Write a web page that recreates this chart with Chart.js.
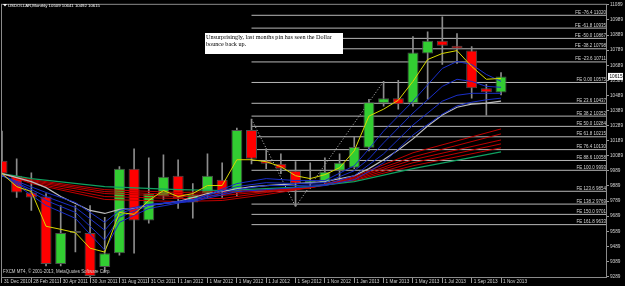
<!DOCTYPE html>
<html>
<head>
<meta charset="utf-8">
<script src="https://cdn.jsdelivr.net/npm/chart.js@4.4.0/dist/chart.umd.min.js"></script>
<style>
  html, body { margin: 0; padding: 0; background: #000; }
  #wrap { width: 625px; height: 286px; }
</style>
</head>
<body>
<div id="wrap"><canvas id="chart" width="625" height="286"></canvas></div>
<script>
// USDOLLAR monthly candles, MT4 look (black chart, fibo expansion levels)

// time axis: one label every 2 bars
var dateBars = [0, 2, 4, 6, 8, 10, 12, 14, 16, 18, 20, 22, 24, 26, 28, 30, 32, 34];
var dateLabels = ["31 Dec 2010", "28 Feb 2011", "30 Apr 2011", "30 Jun 2011", "31 Aug 2011",
  "31 Oct 2011", "1 Jan 2012", "1 Mar 2012", "1 May 2012", "1 Jul 2012", "1 Sep 2012",
  "1 Nov 2012", "1 Jan 2013", "1 Mar 2013", "1 May 2013", "1 Jul 2013", "1 Sep 2013", "1 Nov 2013"];
var priceTicks = [9289, 9389, 9489, 9589, 9689, 9789, 9889, 9989, 10089, 10189, 10289,
  10389, 10489, 10589, 10689, 10789, 10889, 10989, 11089];

// monthly OHLC (bar 0 .. 34)
var opens = [10056, 9957, 9846, 9819, 9372, 9590, 9577, 9352, 9444, 10004, 9661, 9819, 9957, 9780,
  9839, 9931, 9846, 10260, 10056, 10036, 9990, 9905, 9911, 9990, 10010, 10142, 10438, 10471, 10438,
  10767, 10852, 10819, 10786, 10536, 10509];
var highs = [10253, 10069, 9977, 9839, 9760, 9760, 9760, 9681, 10017, 10135, 10076, 10096, 10063,
  9905, 10102, 10043, 10273, 10332, 10135, 10102, 10050, 10043, 10076, 10102, 10214, 10464, 10582,
  10589, 10879, 10911, 11010, 10898, 10813, 10563, 10641];
var lows = [9951, 9813, 9727, 9359, 9359, 9452, 9286, 9319, 9431, 9444, 9642, 9800, 9740, 9675,
  9813, 9813, 9819, 10036, 10004, 9971, 9753, 9872, 9905, 9925, 10004, 10122, 10418, 10398, 10418,
  10464, 10694, 10701, 10471, 10359, 10492];
var closes = [9971, 9846, 9813, 9372, 9577, 9577, 9293, 9444, 10004, 9661, 9839, 9951, 9806, 9832,
  9957, 9846, 10260, 10069, 10036, 10004, 9905, 9925, 9984, 10043, 10148, 10444, 10471, 10431, 10773,
  10852, 10819, 10800, 10536, 10510, 10615];

// fast yellow average, one value per bar
var yellowMa = [9971, 9885, 9852, 9622, 9602, 9580, 9477, 9451, 9714, 9701, 9793, 9859, 9819, 9839,
  9892, 9892, 10063, 10063, 10050, 10017, 9957, 9938, 9964, 10010, 10122, 10352, 10398, 10457, 10582,
  10727, 10767, 10786, 10681, 10596, 10602];

// blue ribbon
var blueBars = [0, 3, 5, 7, 8, 10, 13, 16, 18, 20, 22, 24, 25, 26, 28, 30, 31, 32, 33, 34];
var blueA = [9964, 9760, 9675, 9464, 9648, 9740, 9793, 9905, 9938, 9925, 9925, 10023, 10135, 10253,
  10451, 10668, 10714, 10694, 10628, 10582];
var blueB = [9964, 9793, 9714, 9530, 9681, 9760, 9800, 9885, 9911, 9905, 9911, 9990, 10069, 10175,
  10372, 10549, 10596, 10582, 10549, 10543];
var blueC = [9957, 9819, 9747, 9596, 9707, 9767, 9793, 9865, 9892, 9892, 9898, 9957, 10030, 10102,
  10293, 10451, 10490, 10503, 10503, 10503];
var blueD = [9957, 9846, 9780, 9648, 9727, 9767, 9786, 9852, 9865, 9878, 9892, 9931, 9985, 10043,
  10227, 10365, 10420, 10444, 10460, 10471];

// slow silver average
var grayBars = [0, 2, 3, 4, 6, 7, 8, 9, 10, 12, 14, 17, 20, 22, 24, 25, 26, 27, 28, 29, 30, 31, 32, 33, 34];
var grayMa = [9971, 9918, 9878, 9819, 9727, 9707, 9734, 9740, 9760, 9786, 9839, 9885, 9905, 9918,
  9957, 10004, 10063, 10128, 10201, 10286, 10359, 10411, 10431, 10438, 10451];

// red ribbon + green slowest line
var redBars = [0, 2, 7, 12, 15, 18, 21, 24, 28, 34];
var red1 = [9971, 9905, 9800, 9786, 9793, 9832, 9878, 9951, 10109, 10267];
var red2 = [9971, 9911, 9819, 9806, 9806, 9846, 9878, 9944, 10082, 10234];
var red3 = [9971, 9918, 9839, 9819, 9826, 9852, 9878, 9938, 10063, 10194];
var red4 = [9971, 9925, 9852, 9832, 9839, 9859, 9878, 9931, 10043, 10168];
var red5 = [9971, 9931, 9865, 9846, 9852, 9865, 9878, 9925, 10023, 10142];
var greenMa = [9971, 9938, 9885, 9865, 9859, 9872, 9885, 9918, 10004, 10115];

// zigzag swing points
var zigBars = [17, 20, 26];
var zigVals = [10332, 9753, 10582];

// fibo expansion levels
var feStartBar = 17;
var feRatios = ["-76.4", "-61.8", "-50.0", "-38.2", "-23.6", "0.00", "23.6", "38.2", "50.0",
  "61.8", "76.4", "88.6", "100.0", "123.6", "138.2", "150.0", "161.8"];
var feLevels = [11020, 10935, 10867, 10798, 10711, 10575, 10437, 10352, 10284, 10215, 10130,
  10058, 9993, 9854, 9769, 9701, 9633];

var titleText = "USDOLLAR,Monthly 10509 10641 10492 10615";
var noteLines = ["Unsurprisingly, last months pin has seen the Dollar", "bounce back up."];
var footText = "FXCM MT4, \u00A9 2001-2013, MetaQuotes Software Corp.";
var lastPrice = 10615;

var xMin = -0.068, xMax = 41.22;
var yMin = 9286, yMax = 11096;

var UP = '#32cd32', DOWN = '#ff0000';
var SMALL = 'Liberation Sans';

function pts(bars, vals) {
  return bars.map(function (b, i) { return { x: b, y: vals[i] }; });
}

function lineSet(data, color, order, width) {
  return {
    type: 'line', data: data, borderColor: color, borderWidth: width || 1,
    pointRadius: 0, tension: 0, fill: false, order: order, clip: 0
  };
}

function fitFont(ctx, text, width, family) {
  ctx.font = '10px "' + family + '"';
  var w = ctx.measureText(text).width;
  return (10 * width / w).toFixed(2) + 'px "' + family + '"';
}

var datasets = [];

// fibo lines go at the back
feLevels.forEach(function (lv) {
  datasets.push(lineSet([{ x: feStartBar, y: lv }, { x: xMax, y: lv }], '#b8b8b8', 20, 1));
});

datasets.push({
  type: 'line', data: pts(zigBars, zigVals), borderColor: '#c8c8c8', borderWidth: 1,
  borderDash: [1, 2], pointRadius: 0, tension: 0, order: 9, clip: 0
});

// wicks then bodies
datasets.push({
  type: 'bar',
  data: lows.map(function (l, i) { return { x: i, y: [l, highs[i]] }; }),
  backgroundColor: '#8c8c8c', barThickness: 1, grouped: false, order: 8, clip: 0
});
datasets.push({
  type: 'bar',
  data: opens.map(function (o, i) { return { x: i, y: [o, closes[i]] }; }),
  backgroundColor: opens.map(function (o, i) { return closes[i] >= o ? UP : DOWN; }),
  borderColor: '#4d4d4d', borderWidth: 1, borderSkipped: false, minBarLength: 2,
  categoryPercentage: 1, barPercentage: 0.75, grouped: false, order: 7, clip: 0
});

// averages on top of candles
[red1, red2, red3, red4, red5].forEach(function (r) {
  datasets.push(lineSet(pts(redBars, r), '#c00000', 6));
});
datasets.push(lineSet(pts(redBars, greenMa), '#10a060', 5, 1.2));
datasets.push(lineSet(pts(grayBars, grayMa), '#bcbcbc', 4, 1.2));
[blueA, blueB, blueC, blueD].forEach(function (b) {
  datasets.push(lineSet(pts(blueBars, b), '#1a2fc8', 3));
});
datasets.push(lineSet(yellowMa.map(function (v, i) { return { x: i, y: v }; }), '#d8d800', 1, 1));

var mtDecor = {
  id: 'mtDecor',
  beforeDraw: function (chart) {
    var ctx = chart.ctx;
    ctx.save();
    ctx.fillStyle = '#000';
    ctx.fillRect(0, 0, chart.width, chart.height);
    ctx.restore();
  },
  afterDatasetsDraw: function (chart) {
    var ctx = chart.ctx, a = chart.chartArea, ys = chart.scales.y, xs = chart.scales.x;
    ctx.save();
    // level captions
    ctx.fillStyle = '#d6d6d6';
    ctx.font = '4.5px "' + SMALL + '"';
    ctx.textAlign = 'right';
    ctx.textBaseline = 'bottom';
    feLevels.forEach(function (lv, i) {
      ctx.fillText('FE ' + feRatios[i] + ' ' + lv, a.right - 1, ys.getPixelForValue(lv) - 0.5);
    });
    // comment box
    var bx = 205, by = 33, bw = 138, bh = 21;
    ctx.fillStyle = '#ffffff';
    ctx.fillRect(bx, by, bw, bh);
    ctx.fillStyle = '#000';
    ctx.textAlign = 'left';
    ctx.textBaseline = 'middle';
    ctx.font = fitFont(ctx, noteLines[0], 126, 'Liberation Serif');
    ctx.fillText(noteLines[0], bx + 1, by + 4.5);
    ctx.fillText(noteLines[1], bx + 1, by + 11.5);
    ctx.restore();
  },
  afterDraw: function (chart) {
    var ctx = chart.ctx, a = chart.chartArea, ys = chart.scales.y;
    ctx.save();
    // frame
    ctx.strokeStyle = '#8a8a8a';
    ctx.lineWidth = 1;
    ctx.strokeRect(a.left + 0.5, a.top + 0.5, a.right - a.left - 1, a.bottom - a.top);
    // title
    ctx.fillStyle = '#ffffff';
    ctx.beginPath();
    ctx.moveTo(3, 4); ctx.lineTo(7, 4); ctx.lineTo(5, 6.5); ctx.closePath();
    ctx.fill();
    ctx.textAlign = 'left';
    ctx.textBaseline = 'middle';
    ctx.font = fitFont(ctx, titleText, 92, SMALL);
    ctx.fillText(titleText, 8, 5.5);
    // copyright line
    ctx.fillStyle = '#d0d0d0';
    ctx.font = fitFont(ctx, footText, 108, SMALL);
    ctx.fillText(footText, 3, 272);
    // last price marker
    var py = ys.getPixelForValue(lastPrice);
    ctx.fillStyle = '#ffffff';
    ctx.fillRect(a.right + 1, py - 3.5, 15, 7);
    ctx.fillStyle = '#000';
    ctx.font = '4.7px "' + SMALL + '"';
    ctx.fillText(String(lastPrice), a.right + 2.5, py);
    ctx.restore();
  }
};

new Chart(document.getElementById('chart'), {
  type: 'bar',
  data: { datasets: datasets },
  plugins: [mtDecor],
  options: {
    responsive: false,
    animation: false,
    devicePixelRatio: 1,
    layout: { padding: { left: 1, top: 2, right: 0, bottom: 0 } },
    plugins: { legend: { display: false }, tooltip: { enabled: false } },
    scales: {
      x: {
        type: 'linear', position: 'bottom', min: xMin, max: xMax, offset: false, bounds: 'data',
        afterBuildTicks: function (s) { s.ticks = dateBars.map(function (b) { return { value: b }; }); },
        afterFit: function (s) { s.height = 9; },
        grid: { drawOnChartArea: false, drawTicks: true, tickLength: 6, color: '#9a9a9a', offset: false },
        border: { display: false },
        ticks: {
          autoSkip: false, maxRotation: 0, minRotation: 0, align: 'start', labelOffset: 2,
          padding: -4, color: '#cfcfcf', font: { family: SMALL, size: 4.7 },
          callback: function (v, i) { return dateLabels[i]; }
        }
      },
      y: {
        type: 'linear', position: 'right', min: yMin, max: yMax, bounds: 'data', beginAtZero: false,
        afterBuildTicks: function (s) { s.ticks = priceTicks.map(function (v) { return { value: v }; }); },
        afterFit: function (s) { s.width = 18; },
        grid: { drawOnChartArea: false, tickLength: 2, color: '#9a9a9a' },
        border: { display: false },
        ticks: {
          autoSkip: false, padding: 1, color: '#cfcfcf', font: { family: SMALL, size: 4.7 },
          callback: function (v) { return String(v); }
        }
      }
    }
  }
});
</script>
</body>
</html>
